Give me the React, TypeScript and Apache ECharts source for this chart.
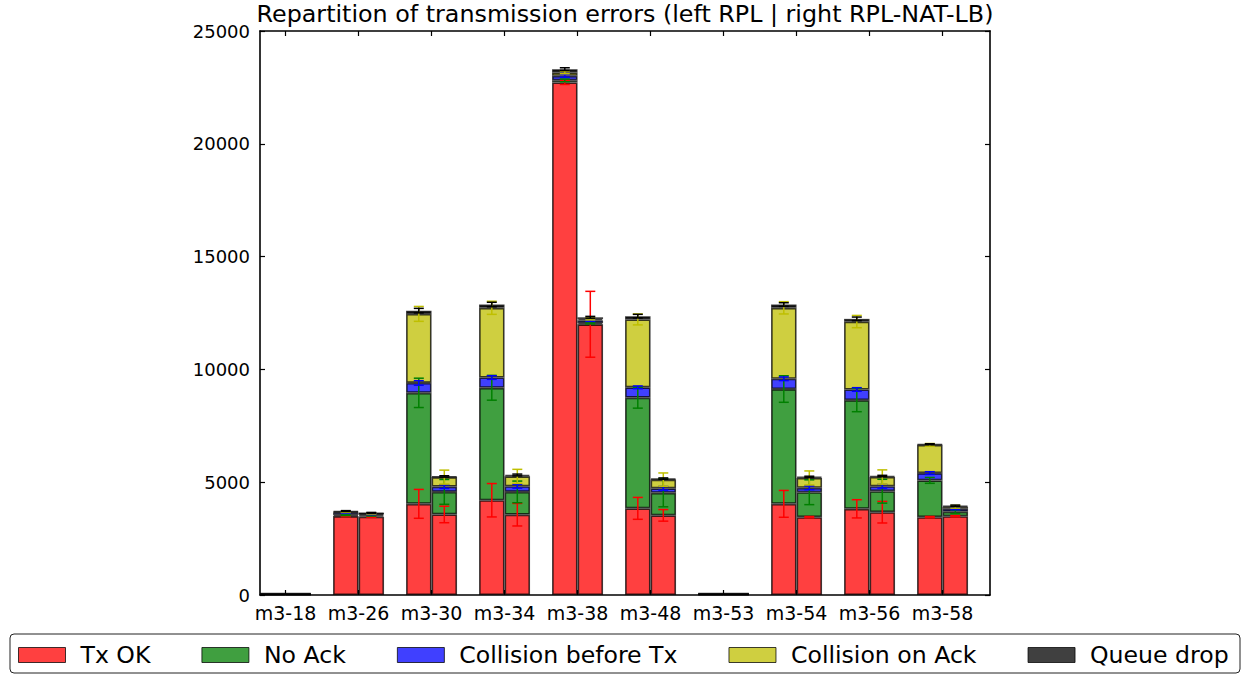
import React, { useEffect, useRef } from "react";
import * as echarts from "echarts";

const categories = ["m3-18", "m3-26", "m3-30", "m3-34", "m3-38", "m3-48", "m3-53", "m3-54", "m3-56", "m3-58"];
const seriesNames = ["Tx OK", "No Ack", "Collision before Tx", "Collision on Ack", "Queue drop"];
const yTicks = [0, 5000, 10000, 15000, 20000, 25000];

// left bars: RPL
const rplTxOk = [20, 3500, 4040, 4200, 22720, 3840, 20, 4040, 3820, 3450];
const rplNoAck = [10, 50, 4920, 4985, 90, 4905, 10, 5090, 4820, 1630];
const rplCollTx = [10, 100, 440, 455, 205, 460, 10, 455, 470, 325];
const rplCollAck = [10, 30, 3060, 3090, 150, 3010, 10, 3145, 3010, 1250];
const rplDrop = [20, 40, 145, 145, 145, 145, 20, 145, 120, 30];

const rplTxOkErr = [0, 30, 640, 740, 90, 485, 0, 595, 404, 30];
const rplNoAckErr = [0, 30, 650, 550, 60, 463, 0, 588, 515, 130];
const rplCollTxErr = [0, 30, 100, 80, 60, 60, 0, 80, 80, 60];
const rplCollAckErr = [0, 20, 330, 290, 60, 243, 0, 272, 272, 60];
const rplDropErr = [0, 20, 100, 100, 60, 80, 0, 80, 80, 20];

// right bars: RPL-NAT-LB
const natTxOk = [20, 3470, 3570, 3560, 12000, 3530, 20, 3450, 3670, 3490];
const natNoAck = [10, 60, 1000, 1010, 58, 1000, 10, 1105, 930, 200];
const natCollTx = [10, 60, 235, 250, 112, 200, 10, 195, 220, 130];
const natCollAck = [10, 20, 420, 440, 65, 385, 10, 440, 410, 90];
const natDrop = [20, 30, 30, 60, 75, 45, 20, 45, 45, 45];

const natTxOkErr = [0, 30, 366, 500, 1460, 257, 0, 30, 478, 30];
const natNoAckErr = [0, 30, 550, 480, 40, 620, 0, 550, 529, 80];
const natCollTxErr = [0, 30, 80, 80, 40, 80, 0, 80, 80, 40];
const natCollAckErr = [0, 20, 310, 310, 40, 295, 0, 309, 316, 60];
const natDropErr = [0, 20, 30, 40, 40, 30, 0, 30, 30, 30];

const fillColors = ["#ff4040", "#409f40", "#4040ff", "#cfcf40", "#404040"];
const errColors = ["#ff0000", "#008000", "#0000ff", "#bfbf00", "#000000"];

const BAR_W = 25.5;
const FONT = "DejaVu Sans";
// frame (visible axes) and data grid (hidden category axis whose band centres sit on the ticks)
const FRAME = { left: 260, top: 31, width: 730, height: 564 };
const X_MIN = -0.35;
const X_MAX = 9.65;

export default function App() {
  const ref = useRef<HTMLDivElement>(null);
  useEffect(() => {
    if (!ref.current) return;
    const chart = echarts.init(ref.current, undefined, { renderer: "svg" });

    const unit = FRAME.width / (X_MAX - X_MIN);
    const dataLeft = FRAME.left + (0 - X_MIN) * unit - unit / 2;
    const dataWidth = unit * categories.length;

    const leftSegs = [rplTxOk, rplNoAck, rplCollTx, rplCollAck, rplDrop];
    const rightSegs = [natTxOk, natNoAck, natCollTx, natCollAck, natDrop];
    const leftErrs = [rplTxOkErr, rplNoAckErr, rplCollTxErr, rplCollAckErr, rplDropErr];
    const rightErrs = [natTxOkErr, natNoAckErr, natCollTxErr, natCollAckErr, natDropErr];

    const series: any[] = [];
    [leftSegs, rightSegs].forEach((segs, side) => {
      segs.forEach((vals, k) => {
        series.push({
          name: seriesNames[k],
          type: "bar",
          stack: side === 0 ? "rpl" : "nat",
          barWidth: BAR_W,
          barGap: "0%",
          xAxisIndex: 0,
          yAxisIndex: 0,
          itemStyle: {
            color: fillColors[k],
            borderColor: "rgba(0,0,0,0.75)",
            borderWidth: 1.6,
          },
          emphasis: { disabled: true },
          data: vals,
        });
      });
    });

    // error bars, drawn at the top of each stacked segment
    const errData: any[] = [];
    [
      [leftSegs, leftErrs],
      [rightSegs, rightErrs],
    ].forEach(([segs, errs]: any, side) => {
      for (let i = 0; i < categories.length; i++) {
        let cum = 0;
        for (let k = 0; k < segs.length; k++) {
          cum += segs[k][i];
          errData.push([i, cum, errs[k][i], side, k]);
        }
      }
    });

    series.push({
      type: "custom",
      xAxisIndex: 0,
      yAxisIndex: 0,
      z: 10,
      silent: true,
      encode: { x: 0, y: 1 },
      data: errData,
      renderItem: (params: any, api: any) => {
        const x = api.value(0);
        const top = api.value(1);
        const err = api.value(2);
        const side = api.value(3);
        const k = api.value(4);
        if (!err) return null;
        const p = api.coord([x, top]);
        const cx = p[0] + (side === 0 ? -BAR_W / 2 : BAR_W / 2);
        const yHi = api.coord([x, top + err])[1];
        const yLo = api.coord([x, Math.max(top - err, 0)])[1];
        const style = { stroke: errColors[k], lineWidth: 1.5 };
        return {
          type: "group",
          children: [
            { type: "line", shape: { x1: cx, y1: yHi, x2: cx, y2: yLo }, style },
            { type: "line", shape: { x1: cx - 5, y1: yHi, x2: cx + 5, y2: yHi }, style },
            { type: "line", shape: { x1: cx - 5, y1: yLo, x2: cx + 5, y2: yLo }, style },
          ],
        };
      },
    });

    const tickIdx = categories.map((_, i) => i);
    const axisLine = { show: true, onZero: false, lineStyle: { color: "#000", width: 1.6 } };
    const tickStyle = { inside: true, length: 5, lineStyle: { color: "#000", width: 1.2 } };

    chart.setOption({
      animation: false,
      textStyle: { fontFamily: FONT },
      graphic: [
        {
          type: "text",
          x: FRAME.left + FRAME.width / 2,
          y: 14,
          style: {
            text: "Repartition of transmission errors (left RPL | right RPL-NAT-LB)",
            fontSize: 23.8,
            fontFamily: FONT,
            fill: "#000",
            align: "center",
            verticalAlign: "middle",
          },
        },
        {
          type: "rect",
          x: 10,
          y: 634,
          shape: { width: 1230, height: 39, r: 4 },
          style: { fill: "#fff", stroke: "#222", lineWidth: 1 },
          z: -1,
        },
      ],
      legend: {
        data: seriesNames,
        left: 18,
        top: 643,
        padding: 0,
        itemWidth: 47,
        itemHeight: 15,
        itemGap: 51,
        icon: "rect",
        itemStyle: { borderWidth: 1, borderColor: "rgba(0,0,0,0.75)" },
        textStyle: { fontSize: 23.6, fontFamily: FONT, color: "#000", padding: [0, 0, 0, 10] },
        selectedMode: false,
      },
      grid: [
        { left: dataLeft, top: FRAME.top, width: dataWidth, height: FRAME.height, containLabel: false },
        { left: FRAME.left, top: FRAME.top, width: FRAME.width, height: FRAME.height, containLabel: false },
      ],
      xAxis: [
        {
          type: "category",
          gridIndex: 0,
          data: categories,
          show: false,
        },
        {
          type: "value",
          gridIndex: 1,
          position: "bottom",
          min: X_MIN,
          max: X_MAX,
          axisLine,
          axisTick: { ...tickStyle, customValues: tickIdx },
          axisLabel: {
            customValues: tickIdx,
            formatter: (v: number) => categories[Math.round(v)] ?? "",
            fontSize: 19,
            fontFamily: FONT,
            color: "#000",
            margin: 8,
          },
          splitLine: { show: false },
        },
        {
          type: "value",
          gridIndex: 1,
          position: "top",
          min: X_MIN,
          max: X_MAX,
          axisLine,
          axisTick: { ...tickStyle, customValues: tickIdx },
          axisLabel: { show: false },
          splitLine: { show: false },
        },
      ],
      yAxis: [
        {
          type: "value",
          gridIndex: 0,
          min: 0,
          max: 25000,
          interval: 5000,
          show: false,
          splitLine: { show: false },
        },
        {
          type: "value",
          gridIndex: 1,
          position: "left",
          min: 0,
          max: 25000,
          interval: 5000,
          axisLine,
          axisTick: { ...tickStyle, customValues: yTicks },
          axisLabel: {
            fontSize: 18,
            fontFamily: FONT,
            color: "#000",
            margin: 10,
            formatter: (v: number) => String(v),
          },
          splitLine: { show: false },
        },
        {
          type: "value",
          gridIndex: 1,
          position: "right",
          min: 0,
          max: 25000,
          interval: 5000,
          axisLine,
          axisTick: { ...tickStyle, customValues: yTicks },
          axisLabel: { show: false },
          splitLine: { show: false },
        },
      ],
      series,
    });

    return () => chart.dispose();
  }, []);

  return (
    <div
      ref={ref}
      style={{ position: "fixed", left: 0, top: 0, width: 1242, height: 676, background: "#fff" }}
    />
  );
}
